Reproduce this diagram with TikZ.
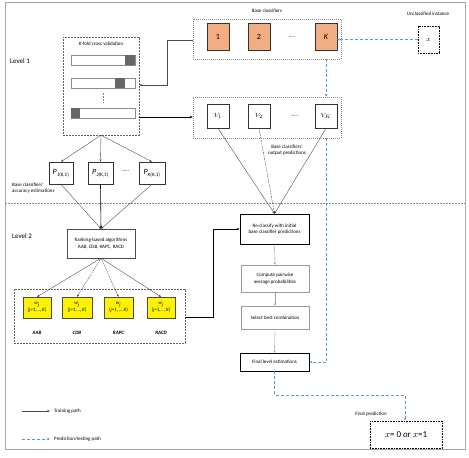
\documentclass[tikz,border=0pt]{standalone}
\usepackage{fontspec}
\setmainfont{Carlito}
\usetikzlibrary{arrows.meta}
\definecolor{orangefill}{HTML}{F2AD84}
\definecolor{predblue}{HTML}{5B9BD5}
\definecolor{framegray}{HTML}{A6A6A6}
\begin{document}
\begin{tikzpicture}[x=1pt,y=-1pt,
  lab/.style={font=\fontsize{5}{6}\selectfont, align=center, inner sep=0},
  procbox/.style={draw, inner sep=0, align=center, font=\fontsize{5}{6.5}\selectfont, fill=white},
  orangebox/.style={draw=black!80, fill=orangefill, minimum width=22pt, minimum height=27pt, inner sep=0, font=\fontsize{8}{8}\selectfont},
  vbox/.style={draw=black!80, line width=0.6pt, fill=white, minimum width=22pt, minimum height=24pt, inner sep=0, font=\fontsize{6}{6}\selectfont},
  pbox/.style={draw=black!80, line width=0.6pt, fill=white, minimum height=22pt, inner sep=0, font=\fontsize{5}{6}\selectfont},
  ybox/.style={draw=black!70, fill=yellow, minimum width=28pt, minimum height=21pt, inner sep=0, align=center, font=\fontsize{5}{6}\selectfont},
  grouping/.style={draw=black!60, dash pattern=on 2pt off 1pt, inner sep=0},
  bar/.style={draw=black!45, line width=0.6pt, fill=white, minimum width=64pt, minimum height=10pt, inner sep=0},
  trainarrow/.style={-{Stealth[length=3pt,width=2.4pt]}, black, line width=0.5pt},
  thinarrow/.style={-{Stealth[length=2.5pt,width=2pt]}, black!75, line width=0.35pt},
  predarrow/.style={-{Stealth[length=3pt,width=2.6pt]}, predblue, line width=0.9pt, dash pattern=on 3pt off 2pt},
  predline/.style={predblue, line width=0.9pt, dash pattern=on 3pt off 2pt},
]
\newcommand{\wlabel}{\textit{w}\textsubscript{\textit{j}}\\(\textit{j}=1,\,..,\,\textit{K})}
\newcommand{\plabel}[1]{{\fontsize{8}{8}\selectfont\textit{P}}\textsubscript{\textit{#1}(K,1)}}
\useasboundingbox (0,0) rectangle (469,458);
% frame and level separator
\draw[framegray, line width=0.6pt] (5,2) rectangle (465,449);
\coordinate (sepL) at (5,203);
\coordinate (sepR) at (465,203);
\draw[black!45, dash pattern=on 2pt off 1pt, line width=0.4pt] (sepL) -- (sepR);
\node[font=\fontsize{7}{7}\selectfont, anchor=west, inner sep=0] (lev1) at (10,61) {Level 1};
\node[font=\fontsize{7}{7}\selectfont, anchor=west, inner sep=0] (lev2) at (12,236) {Level 2};

% base classifiers
\node[draw=black!45, dash pattern=on 1pt off 1pt, minimum width=148pt, minimum height=40pt, inner sep=0] (bc) at (267,39) {};
\node[lab] (bclab) at (267,11) {Base classifiers};
\node[orangebox] (o1) at (218,36.5) {1};
\node[orangebox] (o2) at (259,36.5) {2};
\node[orangebox] (oK) at (326,36.5) {\textit{K}};
\node[lab] (odots) at (292,38) {-----};
\node[lab] (uilab) at (428,14) {Unclassified instance};
\node[draw, dash pattern=on 1pt off 0.6pt, line width=0.6pt, minimum width=21pt, minimum height=27pt, inner sep=0, font=\fontsize{7}{7}\selectfont] (xin) at (428.5,39.5) {$x$};

% K-fold
\node[grouping, minimum width=76pt, minimum height=98pt] (kf) at (101,86) {};
\node[lab] (kflab) at (101,44) {K-fold cross validation};
\node[bar] (bar1) at (103,60) {};
\node[bar] (bar2) at (103,83) {};
\node[bar] (bar3) at (103,113) {};
\fill[black!60] (125,55) rectangle (135,65);
\fill[black!60] (115,78) rectangle (125,88);
\fill[black!60] (71,108) rectangle (80,118);
\coordinate (vd1) at (103,93);
\coordinate (vd2) at (103,103);
\draw[black!50, dash pattern=on 2pt off 1pt, line width=0.5pt] (vd1) -- (vd2);

% V boxes
\node[draw=black!45, dash pattern=on 1pt off 1pt, minimum width=148pt, minimum height=41pt, inner sep=0] (vg) at (267,117.5) {};
\node[vbox] (v1) at (218,116) {$V_1$};
\node[vbox] (v2) at (259,116) {$V_2$};
\node[vbox] (vK) at (326,116) {$V_K$};
\node[lab] (vdots) at (295,117) {-----};
\node[lab] (outlab) at (287,150.5) {Base classifiers'\\output predictions};

% P boxes
\node[pbox, minimum width=24pt] (p1) at (61,173) {\plabel{1}};
\node[pbox, minimum width=25pt] (p2) at (100.5,173) {\plabel{2}};
\node[pbox, minimum width=26pt] (p3) at (152,173) {\plabel{K}};
\node[lab] (pdots) at (126,172) {-----};
\node[lab, align=left, anchor=west] (acclab) at (12,188) {Base classifiers'\\accuracy estimations};

% Ranking
\node[procbox, draw=black!70, minimum width=68pt, minimum height=29pt] (rank) at (101,243.5) {Ranking-based algorithms\\AAB, CDB, RAPC, RACD};

% yellow group
\node[grouping, minimum width=171pt, minimum height=54pt] (yg) at (99.5,316) {};
\node[ybox] (y1) at (37,307.5) {\wlabel};
\node[ybox, minimum width=30pt] (y2) at (77,307.5) {\wlabel};
\node[ybox, minimum width=29pt] (y3) at (118.5,307.5) {\wlabel};
\node[ybox] (y4) at (161,307.5) {\wlabel};
\node[lab, font=\bfseries\itshape\fontsize{5}{6}\selectfont] (yl1) at (37,333) {AAB};
\node[lab, font=\bfseries\itshape\fontsize{5}{6}\selectfont] (yl2) at (77,333) {CDB};
\node[lab, font=\bfseries\itshape\fontsize{5}{6}\selectfont] (yl3) at (118.5,333) {RAPC};
\node[lab, font=\bfseries\itshape\fontsize{5}{6}\selectfont] (yl4) at (161,333) {RACD};

% right column
\node[procbox, line width=0.6pt, minimum width=69pt, minimum height=30pt] (recl) at (274.5,229) {Re-classify with initial\\base classifier predictions};
\node[procbox, draw=black!40, minimum width=68pt, minimum height=27pt] (comp) at (275,278.5) {Compute pairwise\\average probabilities};
\node[procbox, draw=black!40, minimum width=68pt, minimum height=23pt] (sel) at (275,317.5) {Select best combination};
\node[procbox, line width=0.6pt, minimum width=69pt, minimum height=18pt] (fin) at (274.5,362) {Final level estimations};

% final prediction
\node[lab] (fplab) at (371,414) {Final prediction};
\node[draw, dash pattern=on 1pt off 0.6pt, line width=0.6pt, minimum width=72pt, minimum height=27pt, inner sep=0, font=\fontsize{9}{9}\selectfont] (fp) at (406,434.5) {$x$= 0 \textit{or} $x$=1};

% ---- training connectors
\coordinate (c1) at (167,40);
\coordinate (c2) at (167,85);
\draw[trainarrow, black!70] (bc.west |- 0,40) -- (c1) -- (c2) -- (kf.east |- c2);
\draw[trainarrow] (kf.east |- 0,117) -- (vg.west |- 0,117);
\draw[thinarrow] (kf.south) -- (p1.north);
\draw[thinarrow] (kf.south) -- (p2.north);
\draw[thinarrow] (kf.south) -- (p3.north);
\draw[thinarrow] (p1.south) -- (rank.north);
\draw[trainarrow, line width=0.6pt] (p2.south) -- (rank.north);
\draw[thinarrow] (p3.south) -- (rank.north);
\draw[thinarrow] (rank.south) -- (y1.north);
\draw[thinarrow, dash pattern=on 1.5pt off 0.8pt] (rank.south) -- (y2.north);
\draw[thinarrow, dash pattern=on 1.5pt off 0.8pt] (rank.south) -- (y3.north);
\draw[thinarrow] (rank.south) -- (y4.north);
\coordinate (c3) at (213,317);
\coordinate (c4) at (213,229);
\draw[trainarrow] (yg.east |- c3) -- (c3) -- (c4) -- (recl.west);
\draw[thinarrow] (v1.south) -- (recl.north);
\draw[thinarrow, dash pattern=on 2pt off 1pt] (v2.south) -- (recl.north);
\draw[thinarrow] (vK.south) -- (recl.north);
\draw[thinarrow, black!40] (recl.south) -- (comp.north);
\draw[thinarrow, black!40] (comp.south) -- (sel.north);
\draw[thinarrow, black!40] (sel.south) -- (fin.north);

% ---- prediction connectors
\draw[predarrow] (xin.west) -- (oK.east |- xin.west);
\draw[predarrow] (bc.south -| oK.south) -- (vg.north -| oK.south);
\coordinate (c5) at (326,362);
\draw[predline] (vg.south -| oK.south) -- (c5);
\draw[predarrow] (c5) -- (fin.east);
\coordinate (c6) at (274.5,395);
\coordinate (c7) at (405,395);
\draw[predarrow] (fin.south) -- (c6) -- (c7) -- (fp.north -| c7);

% legend
\coordinate (lg1) at (22,411);
\coordinate (lg2) at (50,411);
\draw[trainarrow, black!70, line width=0.8pt] (lg1) -- (lg2);
\node[lab, anchor=west] (lgt1) at (54,411) {Training path};
\coordinate (lg3) at (22,439);
\coordinate (lg4) at (50,439);
\draw[predarrow] (lg3) -- (lg4);
\node[lab, anchor=west] (lgt2) at (54,439) {Prediction/testing path};
\end{tikzpicture}
\end{document}
